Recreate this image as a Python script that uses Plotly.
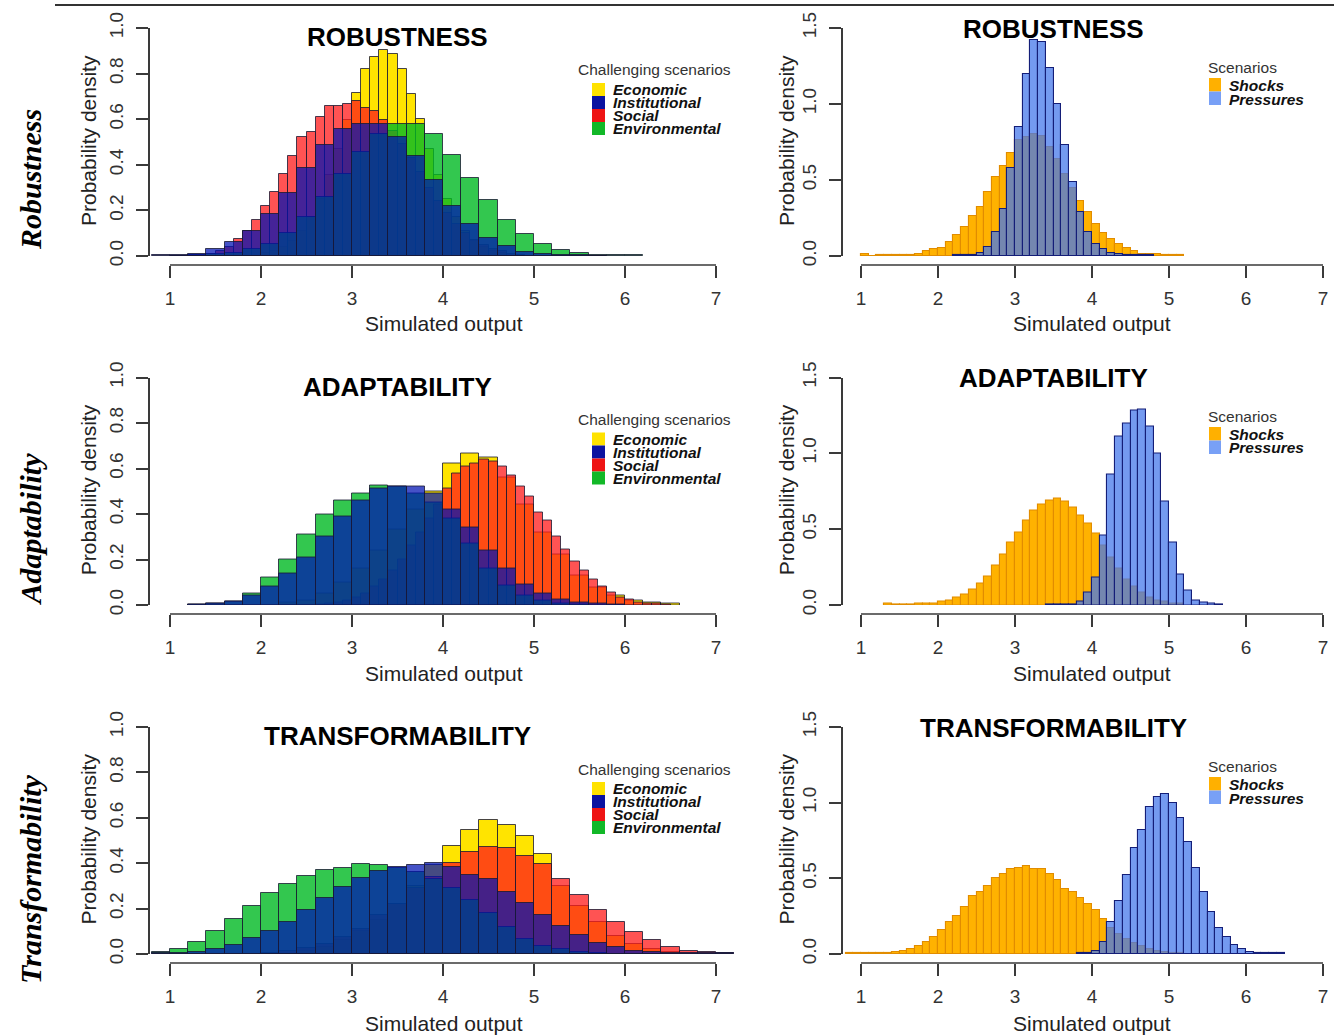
import plotly.graph_objects as go

# ---------------- text / categories ----------------
PANEL_TITLES = ["ROBUSTNESS", "ADAPTABILITY", "TRANSFORMABILITY"]
ROW_LABELS = ["Robustness", "Adaptability", "Transformability"]
LEFT_SERIES = ["Economic", "Institutional", "Social", "Environmental"]
RIGHT_SERIES = ["Shocks", "Pressures"]
X_TICKS = [1, 2, 3, 4, 5, 6, 7]
Y_TICKS_LEFT = [0.0, 0.2, 0.4, 0.6, 0.8, 1.0]
Y_TICKS_RIGHT = [0.0, 0.5, 1.0, 1.5]

# ---------------- data: histogram densities (first bin start, bin width, densities) ----------------
# Robustness - challenging scenarios
rob_econ_start, rob_econ_w = 2.0, 0.1
rob_econ = [0.011, 0.022, 0.04, 0.068, 0.11, 0.17, 0.25, 0.355, 0.47, 0.595, 0.715, 0.82, 0.875, 0.905,
            0.885, 0.82, 0.71, 0.60, 0.47, 0.355, 0.25, 0.17, 0.11, 0.068, 0.04, 0.022, 0.011]
rob_inst_start, rob_inst_w = 0.8, 0.2
rob_inst = [0.003, 0.004, 0.01, 0.03, 0.06, 0.11, 0.186, 0.277, 0.388, 0.487, 0.556, 0.578, 0.578, 0.52,
            0.44, 0.332, 0.22, 0.14, 0.08, 0.042, 0.018, 0.01, 0.006, 0.004, 0.002]
rob_soc_start, rob_soc_w = 1.2, 0.1
rob_soc = [0.003, 0.005, 0.01, 0.02, 0.04, 0.076, 0.11, 0.16, 0.22, 0.28, 0.36, 0.44, 0.52, 0.545, 0.61,
           0.657, 0.657, 0.665, 0.68, 0.65, 0.635, 0.596, 0.55, 0.49, 0.43, 0.37, 0.30, 0.24, 0.19, 0.14,
           0.10, 0.07, 0.05, 0.03, 0.02, 0.01, 0.005]
rob_env_start, rob_env_w = 1.0, 0.2
rob_env = [0.001, 0.003, 0.008, 0.015, 0.03, 0.054, 0.10, 0.17, 0.26, 0.36, 0.457, 0.537, 0.58, 0.58,
           0.534, 0.445, 0.34, 0.245, 0.16, 0.095, 0.054, 0.028, 0.015, 0.006, 0.004, 0.003]

# Adaptability - challenging scenarios
ada_econ_start, ada_econ_w = 2.2, 0.2
ada_econ = [0.01, 0.02, 0.05, 0.10, 0.16, 0.24, 0.33, 0.42, 0.50, 0.62, 0.666, 0.65, 0.56, 0.44, 0.32,
            0.22, 0.13, 0.075, 0.04, 0.02, 0.01, 0.005]
ada_inst_start, ada_inst_w = 1.2, 0.2
ada_inst = [0.003, 0.005, 0.015, 0.04, 0.08, 0.14, 0.21, 0.30, 0.39, 0.46, 0.51, 0.52, 0.52, 0.49, 0.42,
            0.34, 0.24, 0.16, 0.09, 0.05, 0.025, 0.012, 0.006, 0.003]
ada_soc_start, ada_soc_w = 2.6, 0.1
ada_soc = [0.004, 0.007, 0.012, 0.02, 0.035, 0.05, 0.08, 0.11, 0.15, 0.20, 0.26, 0.32, 0.38, 0.44, 0.51,
           0.58, 0.61, 0.62, 0.64, 0.63, 0.61, 0.57, 0.52, 0.475, 0.405, 0.37, 0.30, 0.245, 0.19, 0.15,
           0.11, 0.08, 0.055, 0.034, 0.022, 0.013, 0.008, 0.005, 0.003]
ada_env_start, ada_env_w = 1.2, 0.2
ada_env = [0.003, 0.005, 0.015, 0.05, 0.12, 0.20, 0.31, 0.40, 0.46, 0.49, 0.525, 0.52, 0.49, 0.45, 0.38,
           0.27, 0.16, 0.085, 0.04, 0.02, 0.008, 0.004]

# Transformability - challenging scenarios
tra_econ_start, tra_econ_w = 2.4, 0.2
tra_econ = [0.015, 0.03, 0.06, 0.10, 0.15, 0.22, 0.30, 0.39, 0.475, 0.545, 0.59, 0.57, 0.52, 0.44, 0.30,
            0.21, 0.14, 0.08, 0.045, 0.02, 0.01]
tra_inst_start, tra_inst_w = 0.8, 0.2
tra_inst = [0.005, 0.005, 0.01, 0.02, 0.04, 0.07, 0.10, 0.14, 0.195, 0.245, 0.295, 0.335, 0.365, 0.385,
            0.39, 0.40, 0.385, 0.35, 0.33, 0.275, 0.225, 0.17, 0.125, 0.085, 0.05, 0.03, 0.015, 0.008,
            0.005, 0.003, 0.003, 0.003]
tra_soc_start, tra_soc_w = 2.0, 0.2
tra_soc = [0.006, 0.012, 0.025, 0.045, 0.075, 0.11, 0.17, 0.22, 0.29, 0.34, 0.40, 0.45, 0.47, 0.465, 0.43,
           0.395, 0.33, 0.26, 0.195, 0.14, 0.095, 0.06, 0.03, 0.015, 0.008, 0.004]
tra_env_start, tra_env_w = 0.8, 0.2
tra_env = [0.01, 0.02, 0.055, 0.10, 0.155, 0.21, 0.27, 0.31, 0.345, 0.37, 0.38, 0.395, 0.39, 0.38, 0.36,
           0.33, 0.29, 0.24, 0.18, 0.12, 0.065, 0.035, 0.02, 0.01, 0.005]

# Shocks vs pressures
rob_shock_start, rob_shock_w = 1.0, 0.1
rob_shock = [0.01, 0.002, 0.006, 0.006, 0.006, 0.006, 0.008, 0.015, 0.03, 0.045, 0.05, 0.09, 0.14, 0.19,
             0.26, 0.32, 0.42, 0.52, 0.59, 0.68, 0.76, 0.78, 0.80, 0.79, 0.72, 0.64, 0.54, 0.45, 0.36, 0.29,
             0.21, 0.15, 0.11, 0.08, 0.05, 0.03, 0.015, 0.01, 0.01, 0.008, 0.008, 0.008]
rob_press_start, rob_press_w = 2.2, 0.1
rob_press = [0.004, 0.004, 0.005, 0.02, 0.061, 0.16, 0.307, 0.577, 0.85, 1.197, 1.42, 1.405, 1.24, 1.0,
             0.73, 0.49, 0.29, 0.16, 0.08, 0.044, 0.02, 0.01, 0.007, 0.005, 0.004, 0.005]
ada_shock_start, ada_shock_w = 1.3, 0.1
ada_shock = [0.01, 0.004, 0.006, 0.006, 0.007, 0.008, 0.012, 0.02, 0.03, 0.05, 0.07, 0.10, 0.14, 0.19, 0.26,
             0.33, 0.41, 0.48, 0.56, 0.62, 0.66, 0.69, 0.70, 0.68, 0.64, 0.59, 0.54, 0.47, 0.39, 0.31, 0.24,
             0.17, 0.12, 0.08, 0.05, 0.03, 0.02, 0.01, 0.01]
ada_press_start, ada_press_w = 3.4, 0.1
ada_press = [0.004, 0.004, 0.004, 0.004, 0.02, 0.08, 0.18, 0.46, 0.86, 1.11, 1.20, 1.28, 1.29, 1.18, 1.0,
             0.68, 0.41, 0.20, 0.095, 0.033, 0.015, 0.008, 0.005]
tra_shock_start, tra_shock_w = 0.8, 0.1
tra_shock = [0.008, 0.008, 0.008, 0.008, 0.008, 0.008, 0.012, 0.02, 0.035, 0.05, 0.08, 0.11, 0.16, 0.21,
             0.25, 0.31, 0.38, 0.41, 0.45, 0.50, 0.53, 0.56, 0.57, 0.58, 0.56, 0.56, 0.53, 0.49, 0.43, 0.41,
             0.37, 0.33, 0.29, 0.23, 0.17, 0.13, 0.10, 0.07, 0.05, 0.03, 0.02, 0.01, 0.005, 0.005]
tra_press_start, tra_press_w = 3.8, 0.1
tra_press = [0.004, 0.004, 0.02, 0.08, 0.21, 0.35, 0.52, 0.70, 0.82, 0.97, 1.04, 1.06, 1.0, 0.90, 0.74,
             0.57, 0.41, 0.28, 0.17, 0.11, 0.06, 0.03, 0.015, 0.008, 0.005, 0.005, 0.005]

LEFT_DATA = [
    [(rob_econ_start, rob_econ_w, rob_econ), (rob_inst_start, rob_inst_w, rob_inst),
     (rob_soc_start, rob_soc_w, rob_soc), (rob_env_start, rob_env_w, rob_env)],
    [(ada_econ_start, ada_econ_w, ada_econ), (ada_inst_start, ada_inst_w, ada_inst),
     (ada_soc_start, ada_soc_w, ada_soc), (ada_env_start, ada_env_w, ada_env)],
    [(tra_econ_start, tra_econ_w, tra_econ), (tra_inst_start, tra_inst_w, tra_inst),
     (tra_soc_start, tra_soc_w, tra_soc), (tra_env_start, tra_env_w, tra_env)],
]
RIGHT_DATA = [
    [(rob_shock_start, rob_shock_w, rob_shock), (rob_press_start, rob_press_w, rob_press)],
    [(ada_shock_start, ada_shock_w, ada_shock), (ada_press_start, ada_press_w, ada_press)],
    [(tra_shock_start, tra_shock_w, tra_shock), (tra_press_start, tra_press_w, tra_press)],
]

# ---------------- styling ----------------
W, H = 1334, 1035
SANS = "Liberation Sans, Arial, Helvetica, sans-serif"
SERIF = "Liberation Serif, Times New Roman, serif"
AX = "#3a3a3a"

LEFT_FILL = {"Economic": "rgba(255,228,0,1)", "Institutional": "rgba(0,18,178,0.73)",
             "Social": "rgba(255,25,25,0.75)", "Environmental": "rgba(0,185,35,0.8)"}
LEFT_KEY = {"Economic": "#FFE200", "Institutional": "#0A12A0", "Social": "#EE1414", "Environmental": "#12B828"}
LEFT_DRAW_ORDER = ["Economic", "Social", "Environmental", "Institutional"]
RIGHT_FILL = {"Shocks": "rgb(255,178,0)", "Pressures": "rgba(70,120,235,0.75)"}
RIGHT_LINE = {"Shocks": "rgb(225,140,0)", "Pressures": "rgb(20,30,120)"}
RIGHT_KEY = {"Shocks": "#FFB000", "Pressures": "#78A0F6"}

ROW_Y0 = [256, 605, 954]       # pixel of density 0
ROW_YTOP = [28, 377.5, 727]    # pixel of top tick
ROW_SHIFT = [0, 349.5, 699]
LEFT_DOM, LEFT_P1, LEFT_PU = (150, 760), 170, 91
RIGHT_DOM, RIGHT_P1, RIGHT_PU = (843, 1334), 861, 77


def fx(p):
    return p / W


def fy(p):
    return 1 - p / H


def centers(start, w, vals):
    return [start + w * (i + 0.5) for i in range(len(vals))]


fig = go.Figure()
layout = {}
shapes = []
annotations = []

for r in range(3):
    for c in range(2):
        idx = 2 * r + c + 1
        xid = "x" if idx == 1 else f"x{idx}"
        yid = "y" if idx == 1 else f"y{idx}"
        xname = "xaxis" if idx == 1 else f"xaxis{idx}"
        yname = "yaxis" if idx == 1 else f"yaxis{idx}"
        if c == 0:
            dom, p1, pu = LEFT_DOM, LEFT_P1, LEFT_PU
            ymax, ytv = 1.0, Y_TICKS_LEFT
        else:
            dom, p1, pu = RIGHT_DOM, RIGHT_P1, RIGHT_PU
            ymax, ytv = 1.5, Y_TICKS_RIGHT
        xr = [1 + (dom[0] - p1) / pu, 1 + (dom[1] - p1) / pu]
        axis_px = ROW_Y0[r] + 9
        layout[xname] = dict(domain=[fx(dom[0]), fx(dom[1])], range=xr, anchor="free",
                             position=fy(axis_px), showline=False, showgrid=False, zeroline=False,
                             ticks="outside", ticklen=12, tickwidth=1.5, tickcolor=AX,
                             tickvals=X_TICKS, ticktext=[str(t) for t in X_TICKS],
                             tickfont=dict(family=SANS, size=19, color="#333"),
                             ticklabelstandoff=4, automargin=False, fixedrange=True)
        layout[yname] = dict(domain=[fy(ROW_Y0[r]), fy(ROW_YTOP[r])], range=[0, ymax], anchor=xid,
                             showline=True, linecolor=AX, linewidth=1.5, showgrid=False, zeroline=False,
                             ticks="outside", ticklen=12, tickwidth=1.5, tickcolor=AX,
                             tickvals=ytv, ticktext=[f"{t:.1f}" for t in ytv], tickangle=-90,
                             tickfont=dict(family=SANS, size=19, color="#333"),
                             ticklabelstandoff=6, automargin=False, fixedrange=True)
        # detached x-axis line from first to last tick (R style)
        shapes.append(dict(type="line", xref=xid, yref="paper", x0=X_TICKS[0], x1=X_TICKS[-1],
                           y0=fy(axis_px), y1=fy(axis_px), line=dict(color=AX, width=1.5)))

        if c == 0:
            series = dict(zip(LEFT_SERIES, LEFT_DATA[r]))
            for name in LEFT_DRAW_ORDER:
                s, w, v = series[name]
                fig.add_trace(go.Bar(x=centers(s, w, v), y=v, width=w, xaxis=xid, yaxis=yid, name=name,
                                     marker=dict(color=LEFT_FILL[name],
                                                 line=dict(color="rgba(25,25,50,0.8)", width=1)),
                                     showlegend=False, hoverinfo="x+y+name"))
        else:
            for name, (s, w, v) in zip(RIGHT_SERIES, RIGHT_DATA[r]):
                fig.add_trace(go.Bar(x=centers(s, w, v), y=v, width=w, xaxis=xid, yaxis=yid, name=name,
                                     marker=dict(color=RIGHT_FILL[name],
                                                 line=dict(color=RIGHT_LINE[name], width=1.1)),
                                     showlegend=False, hoverinfo="x+y+name"))

        # axis titles
        ycen = (ROW_Y0[r] + ROW_YTOP[r]) / 2 - 1
        annotations.append(dict(text="Probability density", xref="paper", yref="paper",
                                x=fx(88 if c == 0 else 786), y=fy(ycen), textangle=-90, showarrow=False,
                                xanchor="center", yanchor="middle",
                                font=dict(family=SANS, size=21, color="#222")))
        annotations.append(dict(text="Simulated output", xref="paper", yref="paper",
                                x=fx(444 if c == 0 else 1092), y=fy(324 + ROW_SHIFT[r]), showarrow=False,
                                xanchor="center", yanchor="middle",
                                font=dict(family=SANS, size=21, color="#222")))
        # panel titles
        annotations.append(dict(text=f"<b>{PANEL_TITLES[r]}</b>", xref="paper", yref="paper",
                                x=fx(398 if c == 0 else 1053),
                                y=fy((37 if c == 0 else 29) + ROW_SHIFT[r]), showarrow=False,
                                xanchor="center", yanchor="middle",
                                font=dict(family=SANS, size=26, color="#000")))

        d = ROW_SHIFT[r]
        if c == 0:
            annotations.append(dict(text="Challenging scenarios", xref="paper", yref="paper",
                                    x=fx(576), y=fy(70 + d), showarrow=False, xanchor="left",
                                    yanchor="middle", font=dict(family=SANS, size=15.5, color="#333")))
            for k, name in enumerate(LEFT_SERIES):
                top = 83 + 13 * k + d
                shapes.append(dict(type="rect", xref="paper", yref="paper", x0=fx(592), x1=fx(605),
                                   y0=fy(top), y1=fy(top + 13), fillcolor=LEFT_KEY[name],
                                   line=dict(width=0)))
                annotations.append(dict(text=f"<b><i>{name}</i></b>", xref="paper", yref="paper",
                                        x=fx(611), y=fy(89.5 + 13 * k + d), showarrow=False,
                                        xanchor="left", yanchor="middle",
                                        font=dict(family=SANS, size=15.5, color="#111")))
        else:
            d2 = [0, 349, 699][r]
            annotations.append(dict(text="Scenarios", xref="paper", yref="paper",
                                    x=fx(1206), y=fy(67 + d2), showarrow=False, xanchor="left",
                                    yanchor="middle", font=dict(family=SANS, size=15.5, color="#333")))
            for k, name in enumerate(RIGHT_SERIES):
                top = 78 + 13.5 * k + d2
                shapes.append(dict(type="rect", xref="paper", yref="paper", x0=fx(1209), x1=fx(1221),
                                   y0=fy(top), y1=fy(top + 13.5), fillcolor=RIGHT_KEY[name],
                                   line=dict(width=0)))
                annotations.append(dict(text=f"<b><i>{name}</i></b>", xref="paper", yref="paper",
                                        x=fx(1227), y=fy(85 + 14 * k + d2), showarrow=False,
                                        xanchor="left", yanchor="middle",
                                        font=dict(family=SANS, size=15.5, color="#111")))

# row labels
for r, lab in enumerate(ROW_LABELS):
    annotations.append(dict(text=f"<b><i>{lab}</i></b>", xref="paper", yref="paper",
                            x=fx(30), y=fy(180 + ROW_SHIFT[r]), textangle=-90, showarrow=False,
                            xanchor="center", yanchor="middle",
                            font=dict(family=SERIF, size=30, color="#000")))

# top rule
shapes.append(dict(type="line", xref="paper", yref="paper", x0=fx(55), x1=1, y0=fy(5), y1=fy(5),
                   line=dict(color="#333", width=2)))

fig.update_layout(width=W, height=H, margin=dict(l=0, r=0, t=0, b=0, pad=0, autoexpand=False),
                  autosize=False, paper_bgcolor="white", plot_bgcolor="rgba(0,0,0,0)",
                  barmode="overlay", bargap=0, showlegend=False, shapes=shapes, annotations=annotations,
                  font=dict(family=SANS), **layout)

# pin the figure to the page's top-left corner (no page margins / scrollbars)
PAGE_JS = ("document.documentElement.style.margin='0';document.documentElement.style.overflow='hidden';"
           "document.body.style.margin='0';document.body.style.padding='0';"
           "document.body.style.overflow='hidden';"
           "var gd=document.getElementById('{plot_id}');gd.style.position='absolute';"
           "gd.style.left='0px';gd.style.top='0px';")

fig.write_html("out.html", post_script=PAGE_JS, config={"displayModeBar": False})
